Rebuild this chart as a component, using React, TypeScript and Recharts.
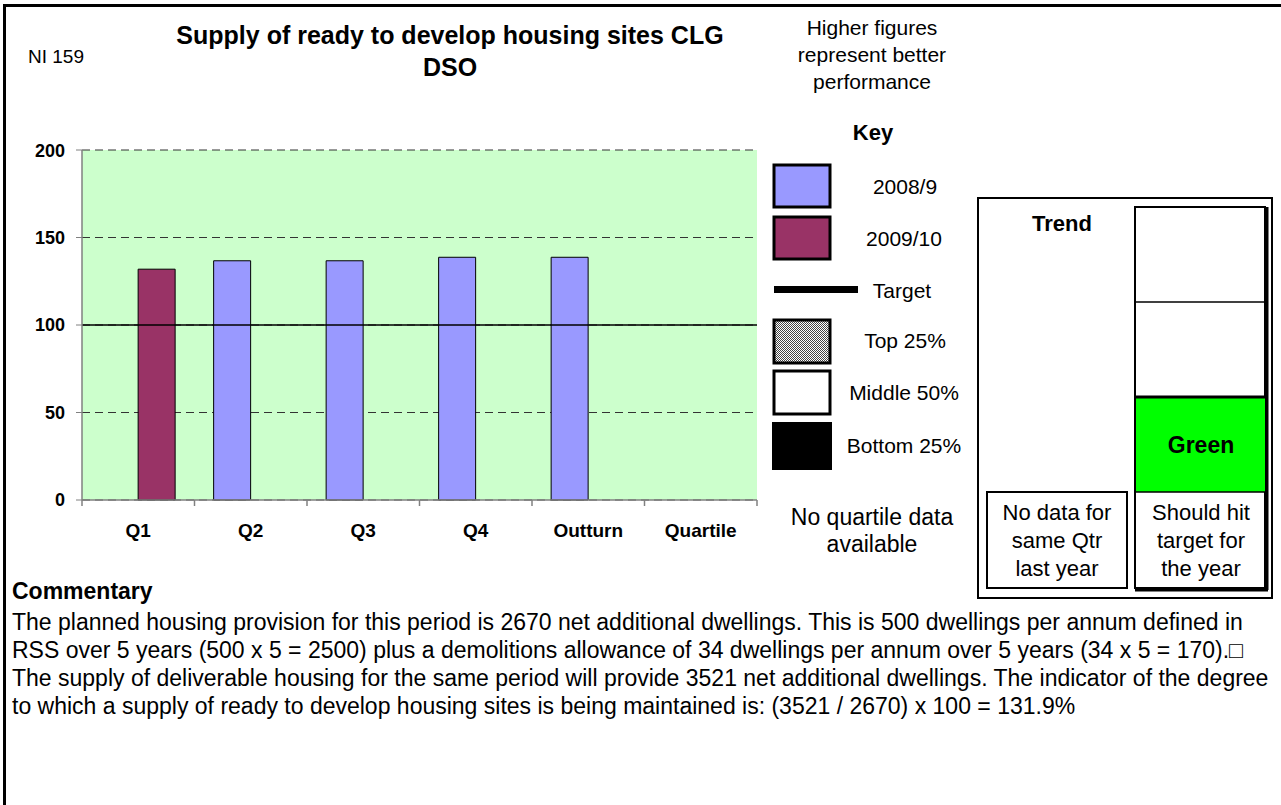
import React from 'react';
import { BarChart, Bar, XAxis, YAxis, CartesianGrid, ReferenceLine } from 'recharts';

// chart values
const categories = ['Q1', 'Q2', 'Q3', 'Q4', 'Outturn', 'Quartile'];
const values2008 = [null, 136.7, 136.7, 138.7, 138.7, null];
const values2009 = [131.9, null, null, null, null, null];
const TARGET = 100;
const yTicks = [0, 50, 100, 150, 200];

const keyItems = ['2008/9', '2009/10', 'Target', 'Top 25%', 'Middle 50%', 'Bottom 25%'];
const commentary = [
  'The planned housing provision for this period is 2670 net additional dwellings. This is 500 dwellings per annum defined in',
  'RSS over 5 years (500 x 5 = 2500) plus a demolitions allowance of 34 dwellings per annum over 5 years (34 x 5 = 170).\u25A1',
  'The supply of deliverable housing for the same period will provide 3521 net additional dwellings. The indicator of the degree',
  'to which a supply of ready to develop housing sites is being maintained is: (3521 / 2670) x 100 = 131.9%',
];

const chartData = categories.map((name, i) => ({
  name,
  y2008: values2008[i],
  y2009: values2009[i],
}));

const FONT = '"Liberation Sans", Arial, sans-serif';
const LABEL_GAP = 24;

function T({ x, y, size = 16, bold = false, anchor = 'middle', children }: any) {
  return (
    <text x={x} y={y} fontSize={size} fontWeight={bold ? 'bold' : 'normal'} textAnchor={anchor}
      dominantBaseline="central" fill="#000" fontFamily={FONT}>
      {children}
    </text>
  );
}

// category label plus Excel style tick marks on the category boundaries
function CategoryTick(props: any) {
  const { x, y, payload, index } = props;
  const half = payload && payload.offset ? payload.offset : 0;
  const axisY = y - LABEL_GAP;
  const last = index === categories.length - 1;
  return (
    <g>
      {half > 0 && <line x1={x - half} y1={axisY} x2={x - half} y2={axisY + 6} stroke="#808080" strokeWidth={1.5} />}
      {half > 0 && last && <line x1={x + half} y1={axisY} x2={x + half} y2={axisY + 6} stroke="#808080" strokeWidth={1.5} />}
      <text x={x} y={y} dy="0.71em" textAnchor="middle" fill="#000" fontSize={19} fontWeight="bold" fontFamily={FONT}>
        {payload.value}
      </text>
    </g>
  );
}

export default function App() {
  return (
    <div style={{ position: 'fixed', left: 0, top: 0, width: 1281, height: 805, background: '#fff', overflow: 'hidden', fontFamily: FONT }}>
      <div style={{ position: 'absolute', left: 3, top: 4, width: 1300, height: 820, border: '3px solid #000' }} />

      <div style={{ position: 'absolute', left: 0, top: 140 }}>
        <BarChart width={770} height={410} data={chartData}
          margin={{ top: 10, right: 13, left: 0, bottom: 0 }}
          barCategoryGap="17%" barGap={0}>
          <CartesianGrid vertical={false} strokeDasharray="8 5" stroke="#333" fill="#CCFFCC" fillOpacity={1} />
          <XAxis dataKey="name" interval={0} tickLine={false} tickSize={0} tickMargin={LABEL_GAP} height={50}
            axisLine={{ stroke: '#808080', strokeWidth: 1.5 }} tick={<CategoryTick />} />
          <YAxis domain={[0, 200]} ticks={yTicks} width={82} tickSize={6} tickMargin={11}
            axisLine={{ stroke: '#808080', strokeWidth: 1.5 }} tickLine={{ stroke: '#808080' }}
            tick={{ fill: '#000', fontSize: 18, fontWeight: 'bold', fontFamily: FONT }} />
          <Bar dataKey="y2008" fill="#9999FF" stroke="#000" strokeWidth={1} isAnimationActive={false} />
          <Bar dataKey="y2009" fill="#993366" stroke="#000" strokeWidth={1} isAnimationActive={false} />
          <ReferenceLine y={TARGET} stroke="#000" strokeWidth={1.5} />
        </BarChart>
      </div>

      <svg width={1281} height={805} style={{ position: 'absolute', left: 0, top: 0, pointerEvents: 'none' }}>
        <defs>
          <pattern id="dots" width={2} height={2} patternUnits="userSpaceOnUse">
            <rect width={2} height={2} fill="#fff" />
            <rect width={1} height={1} fill="#444" />
            <rect x={1} y={1} width={1} height={1} fill="#444" />
          </pattern>
        </defs>

        <T x={56} y={56} size={19}>NI 159</T>
        <T x={450} y={35} size={25} bold>Supply of ready to develop housing sites CLG</T>
        <T x={450} y={67} size={25} bold>DSO</T>
        <T x={872} y={27} size={21}>Higher figures</T>
        <T x={872} y={54} size={21}>represent better</T>
        <T x={872} y={81} size={21}>performance</T>

        <T x={873} y={132} size={22} bold>Key</T>
        <rect x={774} y={165} width={56} height={42} fill="#9999FF" stroke="#000" strokeWidth={3} />
        <T x={905} y={186} size={21}>{keyItems[0]}</T>
        <rect x={774} y={217} width={56} height={42} fill="#993366" stroke="#000" strokeWidth={3} />
        <T x={904} y={238} size={21}>{keyItems[1]}</T>
        <rect x={774} y={286} width={84} height={7} fill="#000" />
        <T x={902} y={290} size={21}>{keyItems[2]}</T>
        <rect x={774} y={320} width={56} height={43} fill="url(#dots)" stroke="#000" strokeWidth={3} />
        <T x={905} y={340} size={21}>{keyItems[3]}</T>
        <rect x={774} y={371} width={56} height={43} fill="#fff" stroke="#000" strokeWidth={3} />
        <T x={904} y={392} size={21}>{keyItems[4]}</T>
        <rect x={772} y={422} width={60} height={48} fill="#000" />
        <T x={904} y={445} size={21}>{keyItems[5]}</T>
        <T x={872} y={517} size={23}>No quartile data</T>
        <T x={872} y={544} size={23}>available</T>

        {/* trend box */}
        <rect x={978} y={198} width={294} height={400} fill="#fff" stroke="#000" strokeWidth={2} />
        <T x={1062} y={223} size={22} bold>Trend</T>
        <rect x={1135} y={207} width={130} height={381} fill="#fff" stroke="#000" strokeWidth={2} />
        <line x1={1267} y1={207} x2={1267} y2={590} stroke="#000" strokeWidth={3} />
        <line x1={1135} y1={590} x2={1268} y2={590} stroke="#000" strokeWidth={3} />
        <line x1={1135} y1={302} x2={1265} y2={302} stroke="#000" strokeWidth={1.5} />
        <rect x={1136} y={398} width={129} height={94} fill="#00FF00" />
        <line x1={1135} y1={397} x2={1265} y2={397} stroke="#000" strokeWidth={3} />
        <line x1={1135} y1={492} x2={1265} y2={492} stroke="#000" strokeWidth={1.5} />
        <T x={1201} y={445} size={23} bold>Green</T>
        <T x={1201} y={512} size={22}>Should hit</T>
        <T x={1201} y={540} size={22}>target for</T>
        <T x={1201} y={568} size={22}>the year</T>
        <rect x={987} y={492} width={140} height={96} fill="#fff" stroke="#000" strokeWidth={2} />
        <T x={1057} y={512} size={22}>No data for</T>
        <T x={1057} y={540} size={22}>same Qtr</T>
        <T x={1057} y={568} size={22}>last year</T>

        {/* commentary */}
        <T x={12} y={591} size={23} bold anchor="start">Commentary</T>
        {commentary.map((line, i) => (
          <T key={i} x={12} y={622 + i * 28} size={23} anchor="start">{line}</T>
        ))}
      </svg>
    </div>
  );
}
